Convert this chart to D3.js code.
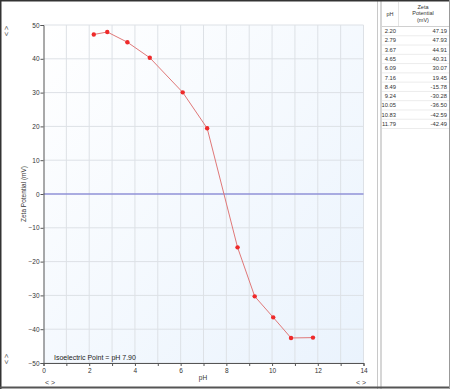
<!DOCTYPE html>
<html>
<head>
<meta charset="utf-8">
<style>
  body { margin: 0; background: #fff; }
  text { font-family: "Liberation Sans", Arial, sans-serif; }
</style>
</head>
<body>
<script src="https://cdn.jsdelivr.net/npm/d3@7"></script>
<script>
// measured data (also shown in table)
var pH = [2.20, 2.79, 3.67, 4.65, 6.09, 7.16, 8.49, 9.24, 10.05, 10.83, 11.79];
var zeta = [47.19, 47.93, 44.91, 40.31, 30.07, 19.45, -15.78, -30.28, -36.50, -42.59, -42.49];
var yTicks = [50, 40, 30, 20, 10, 0, -10, -20, -30, -40, -50];
var xTicks = [0, 2, 4, 6, 8, 10, 12, 14];
var isoText = "Isoelectric Point = pH 7.90";

var W = 450, H = 389;
var svg = d3.select("body").append("svg").attr("width", W).attr("height", H);

// background gradient
var defs = svg.append("defs");
var grad = defs.append("linearGradient").attr("id", "bg")
  .attr("x1", "0").attr("y1", "0").attr("x2", "1").attr("y2", "1");
grad.append("stop").attr("offset", "0").attr("stop-color", "#ffffff");
grad.append("stop").attr("offset", "1").attr("stop-color", "#eaf3fd");

var x = d3.scaleLinear().domain([0, 14]).range([43.5, 363.5]);
var y = d3.scaleLinear().domain([-50, 50]).range([363, 25]);

// plot area
svg.append("rect").attr("x", x(0)).attr("y", y(50))
  .attr("width", x(14) - x(0)).attr("height", y(-50) - y(50))
  .attr("fill", "url(#bg)");

// grid
svg.append("g").selectAll("line").data(d3.range(1, 15)).enter().append("line")
  .attr("x1", d => x(d)).attr("x2", d => x(d))
  .attr("y1", y(50)).attr("y2", y(-50))
  .attr("stroke", "#dde1e6").attr("stroke-width", 1);
svg.append("g").selectAll("line").data(yTicks).enter().append("line")
  .attr("x1", x(0)).attr("x2", x(14))
  .attr("y1", d => y(d)).attr("y2", d => y(d))
  .attr("stroke", "#dde1e6").attr("stroke-width", 1);

// zero line
svg.append("line").attr("x1", x(0)).attr("x2", x(14))
  .attr("y1", y(0)).attr("y2", y(0))
  .attr("stroke", "#6b6bd0").attr("stroke-width", 1.2);

// axes
var yAxis = svg.append("g").attr("transform", "translate(" + x(0) + ",0)")
  .call(d3.axisLeft(y).tickValues(yTicks).tickSize(3).tickPadding(1));
var xAxis = svg.append("g").attr("transform", "translate(0," + y(-50) + ")")
  .call(d3.axisBottom(x).tickValues(d3.range(0, 15)).tickSize(3).tickPadding(2)
    .tickFormat(d => d % 2 === 0 ? d : ""));
[yAxis, xAxis].forEach(function(a) {
  a.select(".domain").attr("stroke", "#555");
  a.selectAll(".tick line").attr("stroke", "#555");
  a.selectAll("text").attr("fill", "#333").style("font-size", "6.5px");
});

svg.append("text").attr("x", 203).attr("y", 380).attr("text-anchor", "middle")
  .style("font-size", "6.5px").attr("fill", "#333").text("pH");
svg.append("text").attr("transform", "translate(26," + y(0) + ") rotate(-90)")
  .attr("text-anchor", "middle").style("font-size", "6.5px").attr("fill", "#333")
  .text("Zeta Potential (mV)");

// series
var line = d3.line().x((d, i) => x(pH[i])).y(d => y(d));
svg.append("path").datum(zeta).attr("d", line)
  .attr("fill", "none").attr("stroke", "#e07878").attr("stroke-width", 1);
svg.append("g").selectAll("circle").data(zeta).enter().append("circle")
  .attr("cx", (d, i) => x(pH[i])).attr("cy", d => y(d)).attr("r", 2.2)
  .attr("fill", "#ee2a2a");

svg.append("text").attr("x", 54).attr("y", 360)
  .style("font-size", "7px").attr("fill", "#222").text(isoText);

// scroll glyphs
function glyph(tx, ty, txt, rot) {
  svg.append("text").attr("transform", "translate(" + tx + "," + ty + ")" + (rot ? " rotate(90)" : ""))
    .attr("text-anchor", "middle").attr("dy", "0.35em").style("font-size", "7px")
    .attr("fill", "#444").text(txt);
}
glyph(6, 31, "< >", true);
glyph(6, 359, "< >", true);
glyph(50, 383, "< >", false);
glyph(361, 383, "< >", false);

// table panel
svg.append("line").attr("x1", 377.5).attr("x2", 377.5).attr("y1", 0).attr("y2", H)
  .attr("stroke", "#c8c8c8");
svg.append("line").attr("x1", 381).attr("x2", 381).attr("y1", 0).attr("y2", H)
  .attr("stroke", "#c8c8c8").attr("stroke-width", 1.5);
var rowY = d3.scaleLinear().domain([0, pH.length]).range([26.5, 128.5]);
svg.append("g").selectAll("line").data(d3.range(0, pH.length + 1)).enter().append("line")
  .attr("x1", 382).attr("x2", 449).attr("y1", d => rowY(d)).attr("y2", d => rowY(d))
  .attr("stroke", d => d === 0 ? "#d0d0d0" : "#ececec");
svg.append("line").attr("x1", 398.5).attr("x2", 398.5).attr("y1", 2).attr("y2", 26)
  .attr("stroke", "#e4e4e4");
svg.append("text").attr("x", 390).attr("y", 16).attr("text-anchor", "middle")
  .style("font-size", "5.5px").attr("fill", "#333").text("pH");
["Zeta", "Potential", "(mV)"].forEach(function(t, i) {
  svg.append("text").attr("x", 423).attr("y", 8.5 + i * 6.5).attr("text-anchor", "middle")
    .style("font-size", "5.5px").attr("fill", "#333").text(t);
});
svg.append("g").selectAll("text").data(pH).enter().append("text")
  .attr("x", 396).attr("y", (d, i) => rowY(i + 0.5) + 2).attr("text-anchor", "end")
  .style("font-size", "5.8px").attr("fill", "#333").text(d => d.toFixed(2));
svg.append("g").selectAll("text").data(zeta).enter().append("text")
  .attr("x", 447).attr("y", (d, i) => rowY(i + 0.5) + 2).attr("text-anchor", "end")
  .style("font-size", "5.8px").attr("fill", "#333").text(d => d.toFixed(2));

// outer frame
svg.append("line").attr("x1", 0).attr("x2", W).attr("y1", 0.75).attr("y2", 0.75)
  .attr("stroke", "#333").attr("stroke-width", 1.5);
svg.append("line").attr("x1", 0.75).attr("x2", 0.75).attr("y1", 0).attr("y2", H)
  .attr("stroke", "#333").attr("stroke-width", 1.5);
svg.append("line").attr("x1", 0).attr("x2", W).attr("y1", H - 1.5).attr("y2", H - 1.5)
  .attr("stroke", "#555").attr("stroke-width", 2);
svg.append("line").attr("x1", W - 0.5).attr("x2", W - 0.5).attr("y1", 0).attr("y2", H)
  .attr("stroke", "#999");
</script>
</body>
</html>
